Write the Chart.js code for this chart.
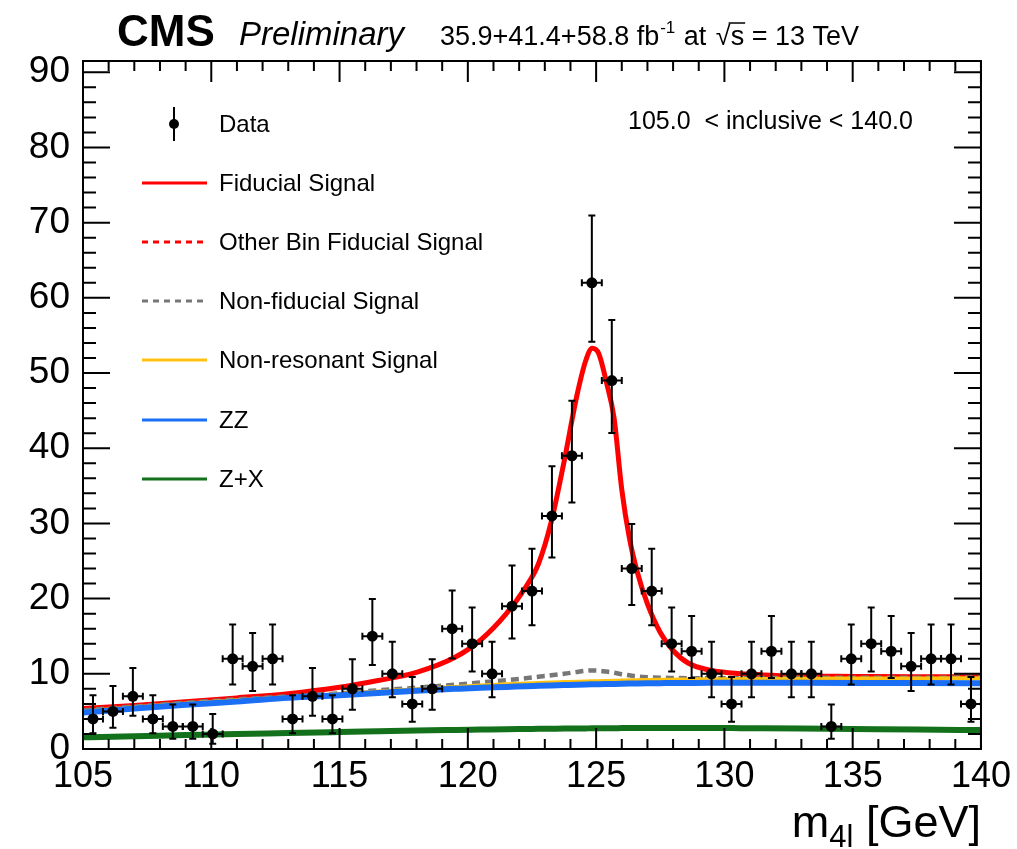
<!DOCTYPE html>
<html>
<head>
<meta charset="utf-8">
<script src="https://cdn.jsdelivr.net/npm/chart.js@4.4.0/dist/chart.umd.min.js"></script>
<style>
  html, body { margin: 0; padding: 0; background: #fff; }
  #wrap { width: 1017px; height: 849px; }
</style>
</head>
<body>
<div id="wrap"><canvas id="c" width="1017" height="849"></canvas></div>
<script>
// m4l spectrum, 105-140 GeV, 45 bins
const massBins = [
  105.389, 106.167, 106.944, 107.722, 108.500, 109.278, 110.056, 110.833, 111.611, 112.389,
  113.167, 113.944, 114.722, 115.500, 116.278, 117.056, 117.833, 118.611, 119.389, 120.167,
  120.944, 121.722, 122.500, 123.278, 124.056, 124.833, 125.611, 126.389, 127.167, 127.944,
  128.722, 129.500, 130.278, 131.056, 131.833, 132.611, 133.389, 134.167, 134.944, 135.722,
  136.500, 137.278, 138.056, 138.833, 139.611
];
const binHalfWidth = 0.3889;

const dataCounts = [
  4, 5, 7, 4, 3, 3, 2, 12, 11, 12,
  4, 7, 4, 8, 15, 10, 6, 8, 16, 14,
  10, 19, 21, 31, 39, 62, 49, 24, 21, 14,
  13, 10, 6, 10, 13, 10, 10, 3, 12, 14,
  13, 11, 12, 12, 6
];
// asymmetric poisson errors
const errDown = [
  1.91, 2.16, 2.58, 1.91, 1.63, 1.63, 1.29, 3.42, 3.27, 3.42,
  1.91, 2.58, 1.91, 2.77, 3.83, 3.11, 2.38, 2.77, 3.95, 3.70,
  3.11, 4.31, 4.53, 5.52, 6.21, 7.85, 6.98, 4.84, 4.53, 3.70,
  3.56, 3.11, 2.38, 3.11, 3.56, 3.11, 3.11, 1.63, 3.42, 3.70,
  3.56, 3.27, 3.42, 3.42, 2.38
];
const errUp = [
  3.16, 3.38, 3.77, 3.16, 2.92, 2.92, 2.64, 4.56, 4.42, 4.56,
  3.16, 3.77, 3.16, 3.95, 4.96, 4.27, 3.58, 3.95, 5.08, 4.83,
  4.27, 5.42, 5.63, 6.62, 7.30, 8.94, 8.05, 5.93, 5.63, 4.83,
  4.70, 4.27, 3.58, 4.27, 4.70, 4.27, 4.27, 2.92, 4.56, 4.83,
  4.70, 4.42, 4.56, 4.56, 3.58
];

// fit curves (stacked), sampled along m4l
const curveMass = [
  105, 107, 109, 111, 113, 115, 116.5, 118, 119.5, 120.5,
  121.5, 122.25, 122.75, 123.25, 123.75, 124.25, 124.6, 124.85, 125.1, 125.4,
  125.7, 126.0, 126.3, 126.6, 127.0, 127.5, 128.0, 128.6, 129.4, 130.3,
  131.5, 133, 135, 137.5, 140
];
const fiducialSignal = [
  5.4, 5.8, 6.3, 6.8, 7.35, 8.2, 9.1, 10.2, 12.2, 14.5,
  18.0, 21.5, 24.6, 30.2, 38.2, 47.0, 51.7, 53.3, 52.6, 48.8,
  44.0, 34.5, 28.0, 23.6, 19.3, 15.5, 13.1, 11.4, 10.5, 10.1,
  9.85, 9.7, 9.65, 9.6, 9.6
];
const nonFiducialSignal = [
  5.15, 5.65, 6.15, 6.6, 7.0, 7.4, 7.8, 8.15, 8.55, 8.85,
  9.15, 9.4, 9.6, 9.8, 10.0, 10.25, 10.4, 10.45, 10.42, 10.3,
  10.15, 9.95, 9.8, 9.65, 9.55, 9.48, 9.45, 9.42, 9.42, 9.42,
  9.43, 9.45, 9.47, 9.48, 9.5
];
const nonResonantSignal = [
  5.0, 5.55, 6.05, 6.5, 6.9, 7.3, 7.65, 7.95, 8.25, 8.45,
  8.6, 8.7, 8.78, 8.85, 8.9, 8.95, 8.98, 9.0, 9.02, 9.05,
  9.08, 9.1, 9.13, 9.15, 9.18, 9.2, 9.22, 9.25, 9.27, 9.3,
  9.32, 9.35, 9.37, 9.39, 9.4
];
const zzBkg = [
  4.85, 5.4, 5.9, 6.3, 6.8, 7.15, 7.45, 7.75, 8.0, 8.15,
  8.25, 8.35, 8.4, 8.45, 8.5, 8.55, 8.58, 8.6, 8.62, 8.64,
  8.66, 8.68, 8.7, 8.72, 8.74, 8.76, 8.78, 8.79, 8.8, 8.8,
  8.8, 8.8, 8.79, 8.77, 8.75
];
const zxBkg = [
  1.55, 1.7, 1.85, 2.0, 2.12, 2.25, 2.35, 2.45, 2.53, 2.58,
  2.63, 2.66, 2.68, 2.7, 2.72, 2.73, 2.74, 2.75, 2.76, 2.77,
  2.77, 2.78, 2.78, 2.79, 2.79, 2.8, 2.8, 2.8, 2.79, 2.78,
  2.76, 2.72, 2.66, 2.58, 2.52
];

const legendEntries = [
  { label: 'Data', kind: 'data' },
  { label: 'Fiducial Signal', color: '#ff0000', dash: [] },
  { label: 'Other Bin Fiducial Signal', color: '#ff0000', dash: [6, 5] },
  { label: 'Non-fiducial Signal', color: '#777777', dash: [6, 5] },
  { label: 'Non-resonant Signal', color: '#ffc20e', dash: [] },
  { label: 'ZZ', color: '#1a6ff5', dash: [] },
  { label: 'Z+X', color: '#13701b', dash: [] }
];

const FONT = '"Liberation Sans", Arial, Helvetica, sans-serif';

function pairs(xs, ys) {
  return xs.map((x, i) => ({ x: x, y: ys[i] }));
}

function curve(values, color, width, dash) {
  return {
    data: pairs(curveMass, values),
    borderColor: color,
    borderWidth: width,
    borderDash: dash || [],
    pointRadius: 0,
    cubicInterpolationMode: 'monotone',
    fill: false
  };
}

const rootStyle = {
  id: 'rootStyle',
  beforeDatasetDraw(chart, args) {
    if (args.index !== 0) return;
    const ctx = chart.ctx, xs = chart.scales.x, ys = chart.scales.y;
    ctx.save();
    ctx.strokeStyle = '#000';
    ctx.lineWidth = 2;
    const cap = 3.5;
    massBins.forEach((m, i) => {
      const px = xs.getPixelForValue(m);
      const py = ys.getPixelForValue(dataCounts[i]);
      const yt = ys.getPixelForValue(dataCounts[i] + errUp[i]);
      const yb = ys.getPixelForValue(dataCounts[i] - errDown[i]);
      const xl = xs.getPixelForValue(m - binHalfWidth);
      const xr = xs.getPixelForValue(m + binHalfWidth);
      ctx.beginPath();
      ctx.moveTo(px, yt); ctx.lineTo(px, yb);
      ctx.moveTo(px - cap, yt); ctx.lineTo(px + cap, yt);
      ctx.moveTo(px - cap, yb); ctx.lineTo(px + cap, yb);
      ctx.moveTo(xl, py); ctx.lineTo(xr, py);
      ctx.moveTo(xl, py - cap); ctx.lineTo(xl, py + cap);
      ctx.moveTo(xr, py - cap); ctx.lineTo(xr, py + cap);
      ctx.stroke();
    });
    ctx.restore();
  },
  afterDraw(chart) {
    const ctx = chart.ctx, xs = chart.scales.x, ys = chart.scales.y;
    const a = chart.chartArea;
    ctx.save();

    // frame and inward ticks on all four sides
    ctx.strokeStyle = '#000';
    ctx.lineWidth = 2;
    ctx.strokeRect(a.left, a.top, a.right - a.left, a.bottom - a.top);
    ctx.beginPath();
    for (let m = 105; m <= 140; m += 1) {
      const px = xs.getPixelForValue(m);
      const len = m % 5 === 0 ? 21 : 10;
      ctx.moveTo(px, a.bottom); ctx.lineTo(px, a.bottom - len);
      ctx.moveTo(px, a.top); ctx.lineTo(px, a.top + len);
    }
    for (let v = 0; v <= 90; v += 2) {
      const py = ys.getPixelForValue(v);
      const len = v % 10 === 0 ? 27 : 13;
      ctx.moveTo(a.left, py); ctx.lineTo(a.left + len, py);
      ctx.moveTo(a.right, py); ctx.lineTo(a.right - len, py);
    }
    ctx.stroke();

    // legend
    const rowY = [124, 183, 242, 301, 360, 420, 479];
    ctx.font = '24px ' + FONT;
    ctx.textBaseline = 'middle';
    ctx.fillStyle = '#000';
    legendEntries.forEach((e, i) => {
      const y = rowY[i];
      if (e.kind === 'data') {
        ctx.lineWidth = 2;
        ctx.strokeStyle = '#000';
        ctx.beginPath();
        ctx.moveTo(174, y - 17); ctx.lineTo(174, y + 17);
        ctx.stroke();
        ctx.beginPath();
        ctx.arc(174, y, 5, 0, Math.PI * 2);
        ctx.fill();
      } else {
        ctx.lineWidth = 3;
        ctx.strokeStyle = e.color;
        ctx.setLineDash(e.dash);
        ctx.beginPath();
        ctx.moveTo(142, y); ctx.lineTo(207, y);
        ctx.stroke();
        ctx.setLineDash([]);
      }
      ctx.fillText(e.label, 219, y + 1);
    });

    // category label
    ctx.font = '25px ' + FONT;
    ctx.fillText('105.0  < inclusive < 140.0', 628, 122);

    // header
    ctx.textBaseline = 'alphabetic';
    ctx.font = 'bold 44px ' + FONT;
    ctx.fillText('CMS', 117, 46);
    ctx.font = 'italic 33px ' + FONT;
    ctx.fillText('Preliminary', 239, 45);
    let x = 440;
    const base = 45;
    ctx.font = '27px ' + FONT;
    const t1 = '35.9+41.4+58.8 fb';
    ctx.fillText(t1, x, base); x += ctx.measureText(t1).width;
    ctx.font = '17px ' + FONT;
    ctx.fillText('-1', x + 1, base - 12); x += ctx.measureText('-1').width + 2;
    ctx.font = '27px ' + FONT;
    ctx.fillText(' at ', x, base); x += ctx.measureText(' at ').width + 2;
    ctx.fillText('\u221A', x, base); x += ctx.measureText('\u221A').width;
    ctx.fillText('s', x, base);
    const sw = ctx.measureText('s').width;
    ctx.lineWidth = 1.5;
    ctx.strokeStyle = '#000';
    ctx.beginPath();
    ctx.moveTo(x - 2, base - 22); ctx.lineTo(x + sw + 1, base - 22);
    ctx.stroke();
    x += sw;
    ctx.fillText(' = 13 TeV', x, base);

    // x axis title, right aligned to the frame
    ctx.font = '45px ' + FONT;
    const tail = ' [GeV]';
    const wTail = ctx.measureText(tail).width;
    const wM = ctx.measureText('m').width;
    ctx.font = '31px ' + FONT;
    const wSub = ctx.measureText('4l').width;
    let tx = a.right - wTail - wSub - wM;
    ctx.font = '45px ' + FONT;
    ctx.fillText('m', tx, 837); tx += wM;
    ctx.font = '31px ' + FONT;
    ctx.fillText('4l', tx, 847); tx += wSub;
    ctx.font = '45px ' + FONT;
    ctx.fillText(tail, tx, 837);

    ctx.restore();
  }
};

new Chart(document.getElementById('c'), {
  type: 'line',
  data: {
    datasets: [
      {
        label: 'Data',
        data: pairs(massBins, dataCounts),
        showLine: false,
        pointRadius: 5.5,
        pointHoverRadius: 5.5,
        pointBackgroundColor: '#000',
        pointBorderColor: '#000',
        pointBorderWidth: 0
      },
      curve(zxBkg, '#13701b', 6),
      curve(zzBkg, '#1a6ff5', 6),
      curve(nonResonantSignal, '#ffc20e', 4),
      curve(nonFiducialSignal, '#777777', 4.5, [8, 5]),
      curve(fiducialSignal, '#ff0000', 5)
    ]
  },
  options: {
    responsive: false,
    devicePixelRatio: 1,
    animation: false,
    layout: { padding: { left: 0, right: 34, top: 61, bottom: 0 } },
    plugins: { legend: { display: false }, tooltip: { enabled: false } },
    scales: {
      x: {
        type: 'linear',
        min: 105,
        max: 140,
        grid: { display: false, drawTicks: false },
        border: { display: false },
        ticks: {
          stepSize: 5,
          includeBounds: false,
          maxRotation: 0,
          padding: 6,
          color: '#000',
          font: { family: FONT, size: 36 }
        },
        afterFit(scale) { scale.height = 100; }
      },
      y: {
        type: 'linear',
        min: 0,
        max: 91.5,
        grid: { display: false, drawTicks: false },
        border: { display: false },
        ticks: {
          stepSize: 10,
          includeBounds: false,
          padding: 13,
          color: '#000',
          font: { family: FONT, size: 37 }
        },
        afterFit(scale) { scale.width = 83; }
      }
    }
  },
  plugins: [rootStyle]
});
</script>
</body>
</html>
